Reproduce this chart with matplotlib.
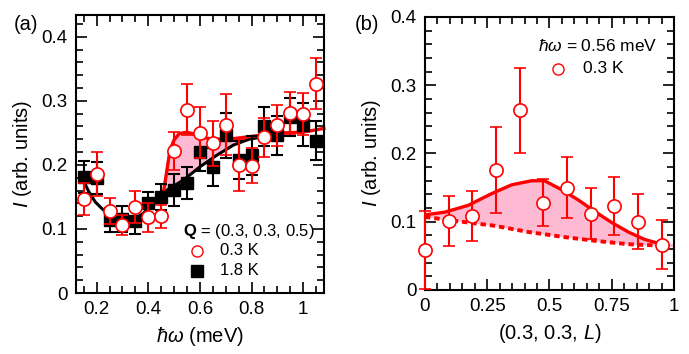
import numpy as np
import matplotlib
matplotlib.use("Agg")
import matplotlib.pyplot as plt
from matplotlib.ticker import MultipleLocator, FuncFormatter

plt.rcParams['font.family'] = ['Liberation Sans', 'DejaVu Sans']
plt.rcParams['mathtext.fontset'] = 'custom'
plt.rcParams['mathtext.rm'] = 'Liberation Sans'
plt.rcParams['mathtext.it'] = 'Liberation Sans:italic'
plt.rcParams['mathtext.bf'] = 'Liberation Sans:bold'

RED = '#ff0000'
PINK = '#ffbad3'

# (a) energy scan at Q = (0.3, 0.3, 0.5)
e_red = [0.15, 0.2, 0.25, 0.3, 0.35, 0.4, 0.45, 0.5, 0.55, 0.6, 0.65, 0.7,
         0.75, 0.8, 0.85, 0.9, 0.95, 1.0, 1.05]
i_red = [0.146, 0.186, 0.128, 0.106, 0.135, 0.118, 0.12, 0.222, 0.286, 0.25,
         0.234, 0.263, 0.2, 0.199, 0.243, 0.262, 0.281, 0.28, 0.327]
err_red = [0.025, 0.034, 0.02, 0.016, 0.025, 0.022, 0.018, 0.03, 0.04, 0.04,
           0.035, 0.047, 0.04, 0.028, 0.03, 0.032, 0.033, 0.033, 0.04]

e_blk = [0.15, 0.2, 0.25, 0.3, 0.35, 0.4, 0.45, 0.5, 0.55, 0.6, 0.65, 0.7,
         0.75, 0.8, 0.85, 0.9, 0.95, 1.0, 1.05]
i_blk = [0.181, 0.18, 0.114, 0.116, 0.112, 0.14, 0.15, 0.161, 0.171, 0.22,
         0.197, 0.246, 0.208, 0.215, 0.26, 0.246, 0.275, 0.263, 0.238]
err_blk = [0.025, 0.025, 0.018, 0.02, 0.02, 0.018, 0.02, 0.025, 0.025, 0.03,
           0.03, 0.035, 0.03, 0.03, 0.03, 0.03, 0.03, 0.033, 0.03]

# fit curves
fit_blk_x = [0.148, 0.17, 0.195, 0.225, 0.26, 0.3, 0.34, 0.38, 0.43, 0.47,
             0.535, 0.6, 0.665, 0.73, 0.79, 0.845]
fit_blk_y = [0.176, 0.158, 0.142, 0.13, 0.12, 0.114, 0.114, 0.124, 0.145,
             0.16, 0.176, 0.197, 0.215, 0.231, 0.24, 0.244]
fit_red_x = [0.458, 0.47, 0.484, 0.5, 0.52, 0.55, 0.57, 0.6, 0.65, 0.73,
             0.83, 0.92, 1.0, 1.08]
fit_red_y = [0.155, 0.186, 0.223, 0.239, 0.249, 0.251, 0.249, 0.244, 0.24,
             0.241, 0.246, 0.25, 0.251, 0.257]

# (b) L scan at hw = 0.56 meV
l_pts = [0.0, 0.095, 0.19, 0.285, 0.38, 0.475, 0.57, 0.665, 0.76, 0.855, 0.95]
i_l = [0.058, 0.101, 0.108, 0.176, 0.263, 0.128, 0.15, 0.112, 0.123, 0.1, 0.066]
err_l = [0.057, 0.036, 0.037, 0.063, 0.062, 0.034, 0.045, 0.038, 0.043, 0.04, 0.036]

fit_l_x = [0.0, 0.08, 0.174, 0.267, 0.348, 0.428, 0.48, 0.548, 0.615, 0.682,
           0.749, 0.816, 0.882, 0.94]
fit_l_y = [0.11, 0.114, 0.124, 0.141, 0.154, 0.16, 0.16, 0.147, 0.132, 0.115,
           0.099, 0.085, 0.074, 0.068]
bg_l_x = [0.0, 0.147, 0.28, 0.414, 0.548, 0.682, 0.816, 0.94, 1.0]
bg_l_y = [0.107, 0.1, 0.094, 0.085, 0.078, 0.072, 0.067, 0.065, 0.063]


def style_axis(ax):
    ax.tick_params(which='both', direction='in', top=True, right=True,
                   width=1.2, labelsize=13.5, pad=6)
    ax.tick_params(which='major', length=8)
    ax.tick_params(which='minor', length=5)
    for s in ax.spines.values():
        s.set_linewidth(1.5)
    fmt = FuncFormatter(lambda v, p: '%g' % round(v, 3))
    ax.xaxis.set_major_formatter(fmt)
    ax.yaxis.set_major_formatter(fmt)
    ax.yaxis.set_major_locator(MultipleLocator(0.1))
    ax.yaxis.set_minor_locator(MultipleLocator(0.02))
    ax.xaxis.set_minor_locator(MultipleLocator(0.05))


fig = plt.figure(figsize=(6.89, 3.54), dpi=100)

# ---- panel (a)
ax1 = fig.add_axes([0.1103, 0.1723, 0.3597, 0.7853])
fx = np.linspace(0.458, 0.845, 200)
ax1.fill_between(fx, np.interp(fx, fit_blk_x, fit_blk_y),
                 np.interp(fx, fit_red_x, fit_red_y), color=PINK, lw=0, zorder=1)
ax1.plot(fit_blk_x, fit_blk_y, color='k', lw=2.2, zorder=2)
ax1.plot(fit_red_x, fit_red_y, color=RED, lw=2.4, zorder=2, clip_on=False)
ax1.errorbar(e_blk, i_blk, yerr=err_blk, fmt='s', ms=9, mfc='k', mec='k',
             ecolor='k', elinewidth=1.5, capsize=4.5, capthick=1.5, zorder=3)
ax1.errorbar(e_red, i_red, yerr=err_red, fmt='o', ms=9.5, mfc='white', mec=RED,
             mew=1.2, ecolor=RED, elinewidth=1.5, capsize=4.5, capthick=1.5,
             zorder=4)
ax1.set_xlim(0.12, 1.08)
ax1.set_ylim(0, 0.434)
ax1.xaxis.set_major_locator(MultipleLocator(0.2))
style_axis(ax1)
ax1.set_xlabel(r'$\hbar\omega$ (meV)', fontsize=14.5, labelpad=5)
ax1.set_ylabel(r'$I$ (arb. units)', fontsize=14.5, labelpad=5)

ax1.text(0.431, 0.222, r'$\mathbf{Q}$ = (0.3, 0.3, 0.5)', transform=ax1.transAxes,
         fontsize=12, va='center')
ax1.plot([0.49], [0.152], 'o', ms=8, mfc='white', mec=RED, mew=1,
         transform=ax1.transAxes)
ax1.text(0.58, 0.152, '0.3 K', transform=ax1.transAxes, fontsize=12, va='center')
ax1.plot([0.49], [0.08], 's', ms=8, color='k', transform=ax1.transAxes)
ax1.text(0.58, 0.08, '1.8 K', transform=ax1.transAxes, fontsize=12, va='center')
fig.text(0.038, 0.93, '(a)', fontsize=14.5, ha='center', va='center')

# ---- panel (b)
ax2 = fig.add_axes([0.6168, 0.181, 0.3614, 0.771])
gx = np.linspace(0, 1, 200)
ax2.fill_between(gx, np.interp(gx, bg_l_x, bg_l_y), np.interp(gx, fit_l_x, fit_l_y),
                 color=PINK, lw=0, zorder=1)
ax2.plot(bg_l_x[:-1], bg_l_y[:-1], color=RED, lw=2.8, ls=(0, (1.4, 1.0)), zorder=2)
ax2.plot(fit_l_x, fit_l_y, color=RED, lw=2.4, zorder=2)
ax2.errorbar(l_pts, i_l, yerr=err_l, fmt='o', ms=9.5, mfc='white', mec=RED,
             mew=1.2, ecolor=RED, elinewidth=1.5, capsize=4.5, capthick=1.5,
             zorder=4, clip_on=False)
ax2.set_xlim(0, 1)
ax2.set_ylim(0, 0.4)
ax2.xaxis.set_major_locator(MultipleLocator(0.25))
style_axis(ax2)
ax2.set_xlabel(r'(0.3, 0.3, $L$)', fontsize=14.5, labelpad=5)
ax2.set_ylabel(r'$I$ (arb. units)', fontsize=14.5, labelpad=5)

ax2.text(0.455, 0.895, r'$\hbar\omega$ = 0.56 meV', transform=ax2.transAxes,
         fontsize=12.5, va='center')
ax2.plot([0.535], [0.81], 'o', ms=8, mfc='white', mec=RED, mew=1,
         transform=ax2.transAxes)
ax2.text(0.635, 0.81, '0.3 K', transform=ax2.transAxes, fontsize=12.5, va='center')
fig.text(0.532, 0.93, '(b)', fontsize=14.5, ha='center', va='center')

plt.savefig('out.png', dpi=100)
